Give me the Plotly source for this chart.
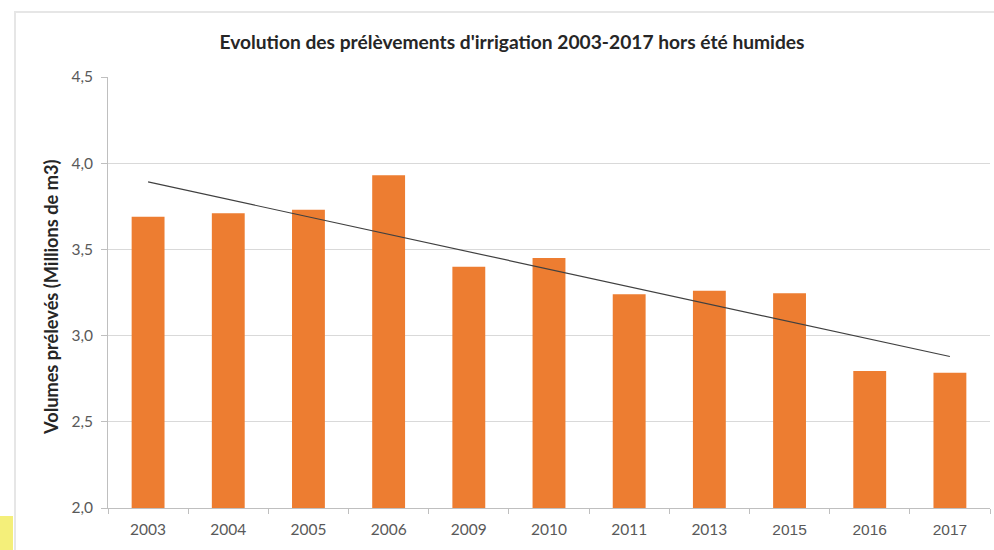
import numpy as np
import plotly.graph_objects as go

years = ["2003", "2004", "2005", "2006", "2009", "2010", "2011", "2013", "2015", "2016", "2017"]
volumes = [3.69, 3.71, 3.73, 3.93, 3.40, 3.45, 3.24, 3.26, 3.245, 2.795, 2.785]
y_ticks = [2.0, 2.5, 3.0, 3.5, 4.0, 4.5]

title_text = "Evolution des prélèvements d'irrigation 2003-2017 hors été humides"
y_title = "Volumes prélevés (Millions de m3)"

W, H = 994, 550
L, R, T, B = 108, 4, 77, 42
PW, PH = W - L - R, H - T - B

def px(x):
    return (x - L) / PW

def py(y):
    return 1 - (y - T) / PH

# linear trend (least squares over category index)
idx = np.arange(len(volumes))
slope, intercept = np.polyfit(idx, volumes, 1)
trend = slope * idx + intercept

ticktext = []
for yv in years:
    if yv in ("2015", "2016", "2017"):
        ticktext.append(f"<span style='font-family:Liberation Sans, Arial'>{yv}</span>")
    else:
        ticktext.append(yv)

fig = go.Figure()
fig.add_trace(go.Bar(x=years, y=volumes, marker=dict(color="#ED7D31", line=dict(width=0)),
                     hoverinfo="x+y"))
fig.add_trace(go.Scatter(x=[years[0], years[-1]], y=[trend[0], trend[-1]], mode="lines",
                         line=dict(color="#404040", width=1.2), hoverinfo="skip"))

fig.update_layout(
    width=W, height=H,
    margin=dict(l=L, r=R, t=T, b=B),
    paper_bgcolor="white", plot_bgcolor="white",
    showlegend=False,
    bargap=0.59,
    separators=", ",
    font=dict(family="Lato, Open Sans, sans-serif", color="#595959", size=15),
    title=dict(text=f"<b>{title_text}</b>", x=512 / W, xanchor="center",
               y=1 - 42 / H, yanchor="middle", yref="container",
               font=dict(size=19.2, color="#262626", family="Lato, Open Sans, sans-serif")),
    xaxis=dict(type="category", tickmode="array", tickvals=years, ticktext=ticktext,
               showline=True, linecolor="#bfbfbf", linewidth=1,
               ticks="outside", tickson="boundaries", ticklen=5, tickcolor="#bfbfbf",
               ticklabelstandoff=7,
               showgrid=False, tickfont=dict(size=15.5, color="#595959")),
    yaxis=dict(range=[2.0, 4.5], tickvals=y_ticks, tickformat=".1f",
               showline=True, linecolor="#bfbfbf", linewidth=1,
               ticks="outside", ticklen=6, tickcolor="#bfbfbf",
               ticklabelstandoff=5,
               showgrid=True, gridcolor="#d9d9d9", gridwidth=1, zeroline=False,
               tickfont=dict(size=15.5, color="#595959")),
    annotations=[dict(text=f"<b>{y_title}</b>", textangle=-90, x=px(51), y=py(298),
                      xref="paper", yref="paper", xanchor="center", yanchor="middle",
                      showarrow=False, font=dict(size=18.2, color="#262626"))],
    shapes=[
        dict(type="rect", xref="paper", yref="paper", x0=px(15), x1=px(1000), y0=py(560), y1=py(12),
             line=dict(color="#e6e6e6", width=2), fillcolor="rgba(0,0,0,0)", layer="below"),
        dict(type="rect", xref="paper", yref="paper", x0=px(-5), x1=px(13), y0=py(560), y1=py(516),
             line=dict(width=0), fillcolor="#f4ef7a", layer="below"),
    ],
)

fig.write_html("out.html", config={"displayModeBar": False},
               post_script="document.body.style.margin='0';")
